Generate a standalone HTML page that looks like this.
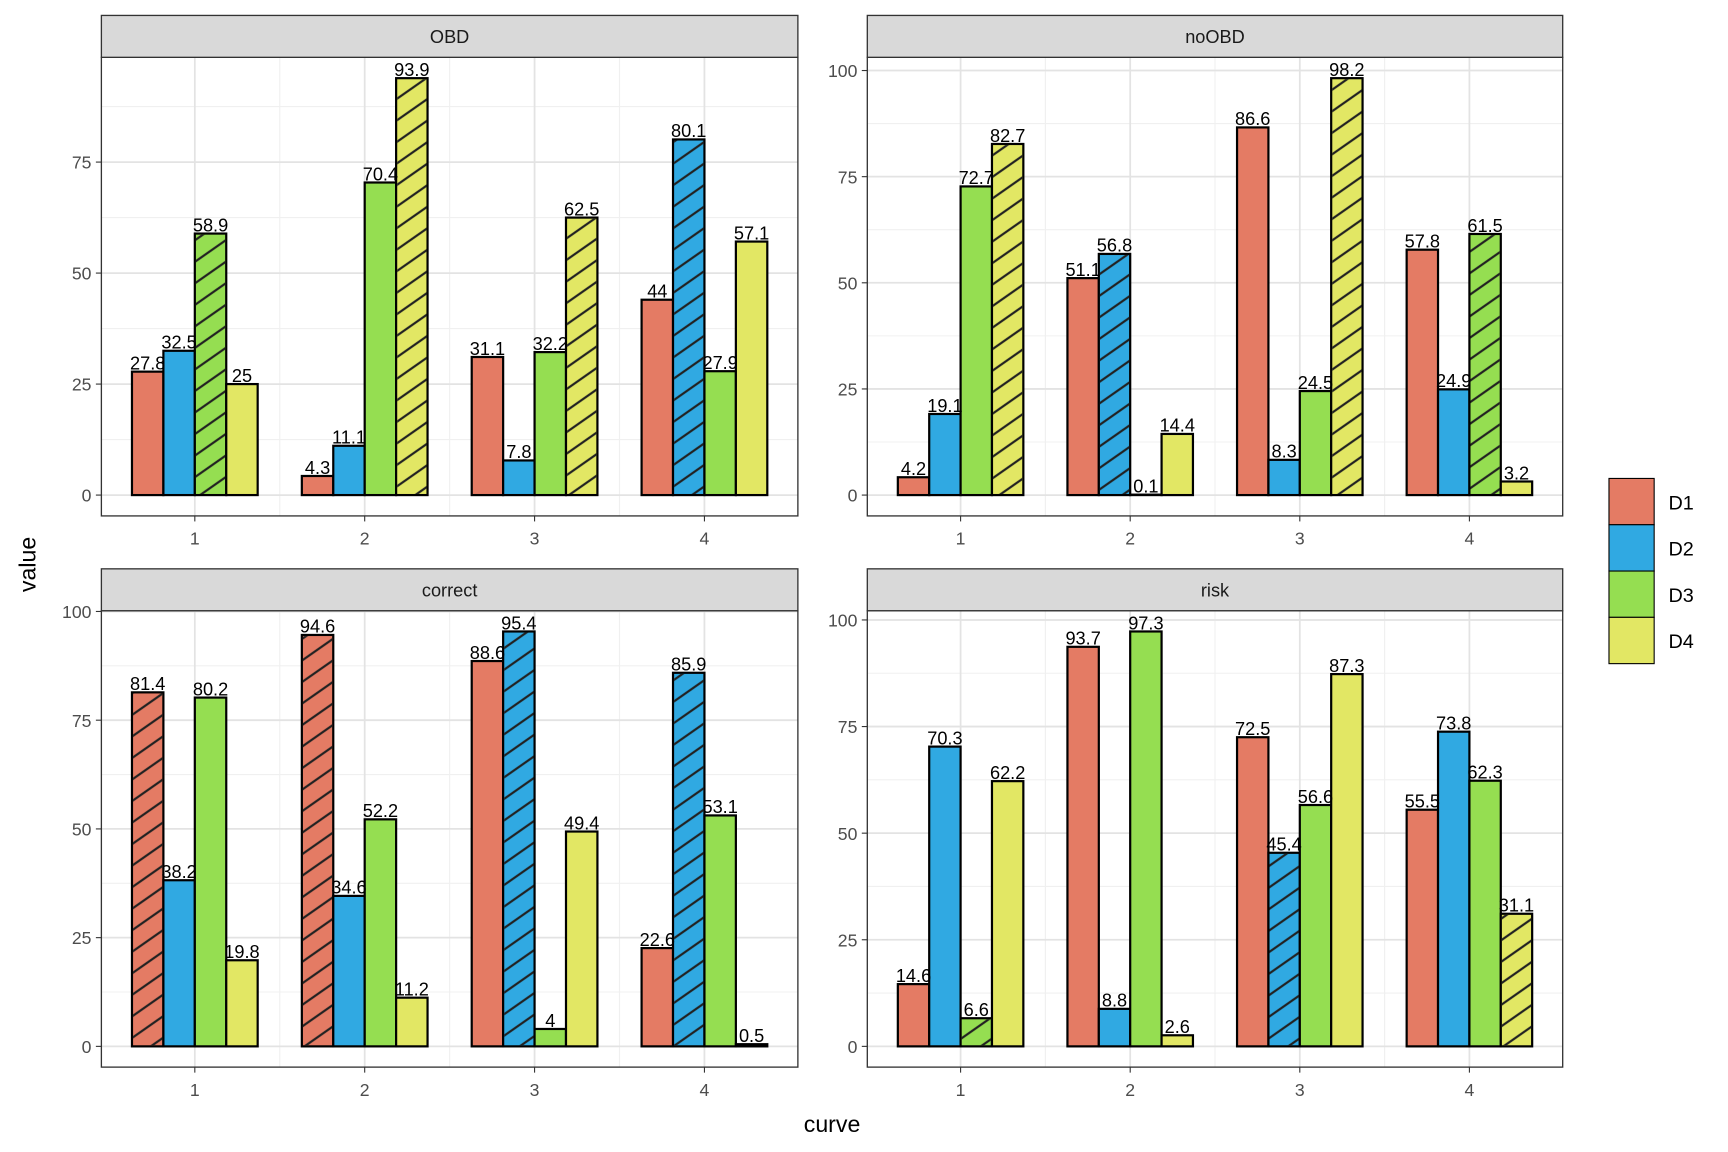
<!DOCTYPE html>
<html><head><meta charset="utf-8"><style>
html,body{margin:0;padding:0;background:#fff;}
svg{display:block;font-family:"Liberation Sans",Arial,sans-serif;}
</style></head>
<body>
<svg id="chart" width="1728" height="1152" viewBox="0 0 1568 1045" preserveAspectRatio="none" xmlns="http://www.w3.org/2000/svg">
<defs>
<pattern id="stripe" patternUnits="userSpaceOnUse" width="16" height="16" patternTransform="rotate(-35)">
<line x1="0" y1="8" x2="16" y2="8" stroke="#222" stroke-width="2"/>
</pattern>
</defs>
<g id="root"></g>
<text x="755" y="1027" font-size="21" text-anchor="middle" fill="#000">curve</text>
<text x="0" y="0" font-size="21" text-anchor="middle" fill="#000" transform="translate(32,512) rotate(-90)">value</text>
</svg>
<script>
const categories = [1, 2, 3, 4];
const seriesNames = ["D1", "D2", "D3", "D4"];
const panelNames = ["OBD", "noOBD", "correct", "risk"];
const obdD1 = [27.8, 4.3, 31.1, 44];
const obdD2 = [32.5, 11.1, 7.8, 80.1];
const obdD3 = [58.9, 70.4, 32.2, 27.9];
const obdD4 = [25, 93.9, 62.5, 57.1];
const noobdD1 = [4.2, 51.1, 86.6, 57.8];
const noobdD2 = [19.1, 56.8, 8.3, 24.9];
const noobdD3 = [72.7, 0.1, 24.5, 61.5];
const noobdD4 = [82.7, 14.4, 98.2, 3.2];
const correctD1 = [81.4, 94.6, 88.6, 22.6];
const correctD2 = [38.2, 34.6, 95.4, 85.9];
const correctD3 = [80.2, 52.2, 4, 53.1];
const correctD4 = [19.8, 11.2, 49.4, 0.5];
const riskD1 = [14.6, 93.7, 72.5, 55.5];
const riskD2 = [70.3, 8.8, 45.4, 73.8];
const riskD3 = [6.6, 97.3, 56.6, 62.3];
const riskD4 = [62.2, 2.6, 87.3, 31.1];
// index of striped series per category
const obdStriped = [2, 3, 3, 1];
const noobdStriped = [3, 1, 3, 2];
const correctStriped = [0, 0, 1, 1];
const riskStriped = [2, -1, 1, 3];
const yTicks = [0, 25, 50, 75, 100];

const colors = ["#e47b64", "#30a9e2", "#95de51", "#e2e764"];
const NS = "http://www.w3.org/2000/svg";
const root = document.getElementById("root");
function mk(tag, attrs, parent) {
  const e = document.createElementNS(NS, tag);
  for (const k in attrs) e.setAttribute(k, attrs[k]);
  (parent || root).appendChild(e);
  return e;
}
const panels = [
  {name: panelNames[0], data: [obdD1, obdD2, obdD3, obdD4], striped: obdStriped, x0: 92, x1: 724, sy: 14, py0: 52, py1: 468},
  {name: panelNames[1], data: [noobdD1, noobdD2, noobdD3, noobdD4], striped: noobdStriped, x0: 787, x1: 1418, sy: 14, py0: 52, py1: 468},
  {name: panelNames[2], data: [correctD1, correctD2, correctD3, correctD4], striped: correctStriped, x0: 92, x1: 724, sy: 516, py0: 554, py1: 968},
  {name: panelNames[3], data: [riskD1, riskD2, riskD3, riskD4], striped: riskStriped, x0: 787, x1: 1418, sy: 516, py0: 554, py1: 968}
];
panels.forEach(p => {
  let mx = 0;
  p.data.forEach(s => s.forEach(v => { if (v > mx) mx = v; }));
  const lo = -0.05 * mx, hi = 1.05 * mx;
  const y = v => p.py1 - (v - lo) / (hi - lo) * (p.py1 - p.py0);
  const unit = (p.x1 - p.x0) / 4.1;
  const x = c => p.x0 + 0.55 * unit + (c - 1) * unit;
  const bw = unit * 0.74 / 4;
  const g = mk("g", {});
  
  
  const bg = mk("rect", {x: p.x0, y: p.py0, width: p.x1 - p.x0, height: p.py1 - p.py0, fill: "#fff"}, g);
  
  
  for (let i = 0; i < yTicks.length; i++) {
    const mv = yTicks[i] + 12.5;
    if (mv <= hi) mk("line", {x1: p.x0, x2: p.x1, y1: y(mv), y2: y(mv), stroke: "#f0f0f0", "stroke-width": 1}, g);
  }
  for (let c = 1; c < 4; c++) {
    const xv = (x(c) + x(c + 1)) / 2;
    mk("line", {x1: xv, x2: xv, y1: p.py0, y2: p.py1, stroke: "#f0f0f0", "stroke-width": 1}, g);
  }
  yTicks.forEach(t => {
    if (t > hi) return;
    mk("line", {x1: p.x0, x2: p.x1, y1: y(t), y2: y(t), stroke: "#e3e3e3", "stroke-width": 1.6}, g);
    mk("line", {x1: p.x0 - 5, x2: p.x0, y1: y(t), y2: y(t), stroke: "#333", "stroke-width": 1}, g);
    const tl = mk("text", {x: p.x0 - 9, y: y(t) + 6, "font-size": 16, fill: "#4d4d4d", "text-anchor": "end"}, g);
    tl.textContent = t;
    
    
  });
  categories.forEach(c => {
    mk("line", {x1: x(c), x2: x(c), y1: p.py0, y2: p.py1, stroke: "#e3e3e3", "stroke-width": 1.6}, g);
    mk("line", {x1: x(c), x2: x(c), y1: p.py1, y2: p.py1 + 5, stroke: "#333", "stroke-width": 1}, g);
    const tl = mk("text", {x: x(c), y: p.py1 + 26, "font-size": 16, fill: "#4d4d4d", "text-anchor": "middle"}, g);
    tl.textContent = c;
    
    
  });
  categories.forEach((c, ci) => {
    p.data.forEach((s, si) => {
      const v = s[ci];
      const bx = x(c) - 2 * bw + si * bw;
      const r = mk("rect", {x: bx, y: y(v), width: bw, height: y(0) - y(v), fill: colors[si], stroke: "#000", "stroke-width": 2}, g);
      
      
      if (p.striped[ci] === si) {
        const pr = mk("rect", {x: bx + 1, y: y(v) + 1, width: bw - 2, height: Math.max(0, y(0) - y(v) - 2), fill: "url(#stripe)"}, g);
        
        
      }
    });
  });
  categories.forEach((c, ci) => {
    p.data.forEach((s, si) => {
      const v = s[ci];
      const bx = x(c) - 2 * bw + si * bw + bw / 2;
      const t = mk("text", {x: bx, y: y(v) - 2, "font-size": 16.5, fill: "#000", "text-anchor": "middle"}, g);
      t.textContent = v;
      
      
    });
  });
  const br = mk("rect", {x: p.x0, y: p.py0, width: p.x1 - p.x0, height: p.py1 - p.py0, fill: "none", stroke: "#333", "stroke-width": 1.2}, g);
  
  
  const st = mk("rect", {x: p.x0, y: p.sy, width: p.x1 - p.x0, height: p.py0 - p.sy, fill: "#d9d9d9", stroke: "#333", "stroke-width": 1.2}, g);
  
  
  const stt = mk("text", {x: (p.x0 + p.x1) / 2, y: (p.sy + p.py0) / 2 + 6, "font-size": 16.5, fill: "#1a1a1a", "text-anchor": "middle"}, g);
  stt.textContent = p.name;
  
  
});
seriesNames.forEach((n, i) => {
  const ly = 434 + i * 42;
  const k = mk("rect", {x: 1460, y: ly, width: 41, height: 42, fill: colors[i], stroke: "#000", "stroke-width": 1}, root);
  
  
  const t = mk("text", {x: 1514, y: ly + 28, "font-size": 18, fill: "#000"}, root);
  t.textContent = n;
  
  
});
</script>
</body></html>
